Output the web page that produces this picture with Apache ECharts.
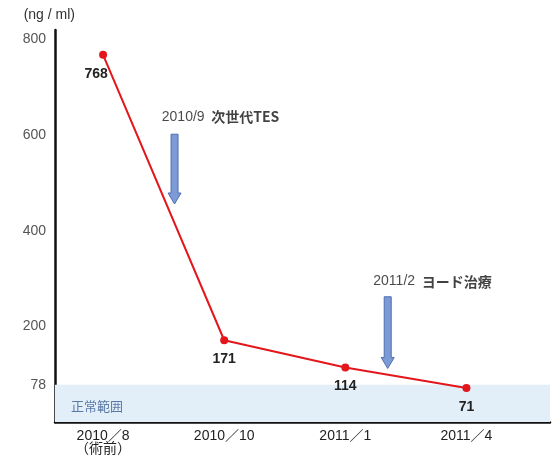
<!DOCTYPE html>
<html>
<head>
<meta charset="utf-8">
<script src="https://cdn.jsdelivr.net/npm/echarts@6/dist/echarts.min.js"></script>
<style>
html,body{margin:0;padding:0;background:#fff;}
#chart{width:553px;height:459px;}
</style>
</head>
<body>
<div id="chart"></div>
<script>
var categories = ['2010／8\n（術前）', '2010／10', '2011／1', '2011／4'];
var values = [768, 171, 114, 71];
var yTicks = [78, 200, 400, 600, 800];
var normalUpper = 78;
var normalLabel = '正常範囲';
var unitLabel = '(ng / ml)';
// events: x position (category index), arrow top/bottom values, label
var eventNames = ['2010/9  次世代TES', '2011/2 ヨード治療'];
var eventX = [0.59, 2.35];
var eventTop = [602, 262];
var eventBottom = [456, 112];
var eventLabelX = [0.97, 2.72];
var eventLabelY = [638, 294];

var chart = echarts.init(document.getElementById('chart'));
var font = '"Liberation Sans", Arial, "Noto Sans CJK JP", sans-serif';

var arrowData = eventX.map(function (x, i) { return [x, eventTop[i], eventBottom[i]]; });
var eventLabelData = eventNames.map(function (n, i) { return { value: [eventLabelX[i], eventLabelY[i]], name: n }; });

chart.setOption({
  animation: false,
  backgroundColor: '#fff',
  textStyle: { fontFamily: font },
  grid: { left: 55, right: 3, top: 30, bottom: 37 },
  xAxis: {
    type: 'value',
    min: -0.397,
    max: 3.69,
    interval: 1,
    axisLine: { show: true, onZero: false, lineStyle: { color: '#111', width: 2.5 } },
    axisTick: { show: false },
    splitLine: { show: false },
    axisLabel: {
      customValues: [0, 1, 2, 3],
      color: '#222',
      fontSize: 14,
      lineHeight: 13,
      margin: 8,
      fontFamily: font,
      formatter: function (v) { var i = Math.round(v); return categories[i] || ''; }
    }
  },
  yAxis: {
    type: 'value',
    min: 0,
    max: 820,
    name: unitLabel,
    nameLocation: 'end',
    nameGap: 8,
    nameTextStyle: { color: '#333', fontSize: 14, align: 'right', padding: [0, -20, 0, 0] },
    axisLine: { show: true, onZero: false, lineStyle: { color: '#111', width: 2.5 } },
    axisTick: { show: false },
    splitLine: { show: false },
    axisLabel: { customValues: yTicks, color: '#555', fontSize: 14, margin: 9 }
  },
  series: [
    {
      type: 'line',
      data: values.map(function (v, i) { return [i, v]; }),
      lineStyle: { color: '#e3161b', width: 2 },
      itemStyle: { color: '#e3161b' },
      symbol: 'circle',
      symbolSize: 8,
      z: 5,
      label: {
        show: true,
        position: 'bottom',
        distance: 8,
        color: '#222',
        fontWeight: 'bold',
        fontSize: 14,
        formatter: function (p) { return p.value[1]; }
      },
      labelLayout: function (p) {
        if (p.dataIndex === 0) { return { dx: -7 }; }
        return {};
      },
      markArea: {
        silent: true,
        itemStyle: { color: '#e2eff9' },
        label: {
          show: true,
          position: 'insideLeft',
          distance: 16,
          offset: [0, 4],
          color: '#5a79a8',
          fontSize: 13,
          formatter: function () { return normalLabel; }
        },
        data: [[{ yAxis: 0, xAxis: -0.397, name: normalLabel }, { yAxis: normalUpper, xAxis: 3.69 }]]
      }
    },
    {
      type: 'custom',
      data: arrowData,
      z: 4,
      renderItem: function (params, api) {
        var x = api.value(0);
        var top = api.coord([x, api.value(1)]);
        var bot = api.coord([x, api.value(2)]);
        var cx = top[0];
        var sw = 3.5, hw = 6.5, hl = 11;
        return {
          type: 'polygon',
          shape: { points: [
            [cx - sw, top[1]], [cx + sw, top[1]], [cx + sw, bot[1] - hl], [cx + hw, bot[1] - hl],
            [cx, bot[1]], [cx - hw, bot[1] - hl], [cx - sw, bot[1] - hl]
          ] },
          style: { fill: '#7b9ad6', stroke: '#4f6fae', lineWidth: 1 }
        };
      }
    },
    {
      type: 'scatter',
      data: eventLabelData,
      symbolSize: 0,
      z: 6,
      label: {
        show: true,
        position: 'inside',
        formatter: function (p) {
          var parts = p.name.split(/\s+/);
          return '{a|' + parts[0] + '}  {b|' + parts.slice(1).join(' ') + '}';
        },
        rich: {
          a: { color: '#1a1a1a', fontSize: 14, fontFamily: font },
          b: { color: '#111', fontSize: 14, fontWeight: 'bold', fontFamily: '"Noto Sans CJK JP", sans-serif' }
        }
      }
    }
  ]
});
</script>
</body>
</html>
